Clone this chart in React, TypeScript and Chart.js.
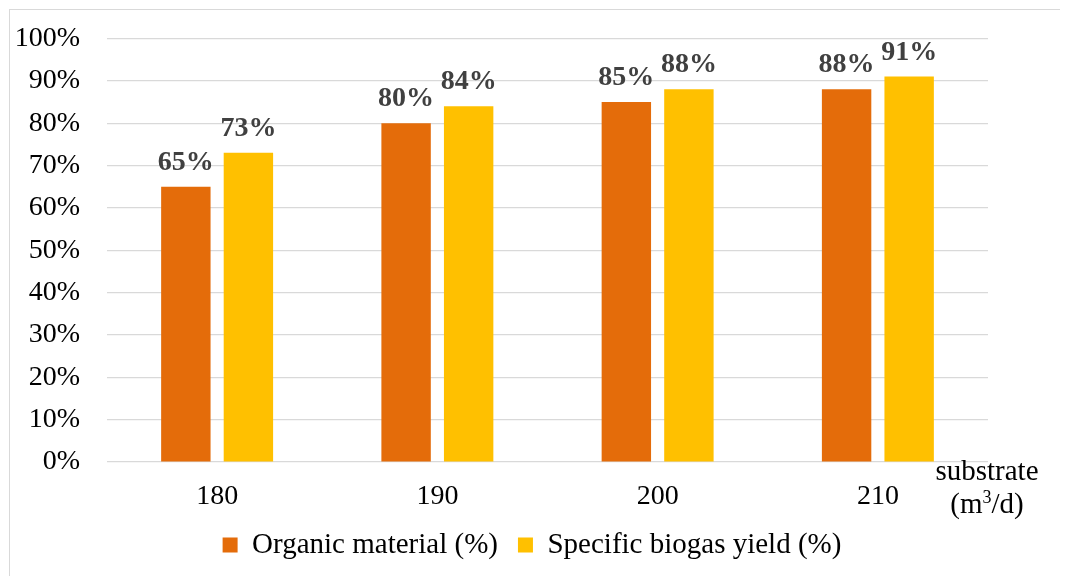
import React, { useEffect, useRef } from "react";
import { Chart, registerables } from "chart.js";

Chart.register(...registerables);

const categories = ["180", "190", "200", "210"];
const organicMaterial = [65, 80, 85, 88];
const biogasYield = [73, 84, 88, 91];
const seriesNames = ["Organic material (%)", "Specific biogas yield (%)"];
const seriesColors = ["#E46C0A", "#FFC000"];
const yTicks = { min: 0, max: 100, step: 10 };
const xTitleLines = ["substrate", "(m", "3", "/d)"];

const FONT = "'Times New Roman', 'Liberation Serif', serif";

const dataLabelPlugin = {
  id: "dataLabels",
  afterDatasetsDraw(chart: any) {
    const ctx = chart.ctx;
    ctx.save();
    ctx.font = `bold 28px ${FONT}`;
    ctx.fillStyle = "#404040";
    ctx.textAlign = "center";
    ctx.textBaseline = "alphabetic";
    chart.data.datasets.forEach((ds: any, i: number) => {
      const meta = chart.getDatasetMeta(i);
      meta.data.forEach((el: any, j: number) => {
        ctx.fillText(`${ds.data[j]}%`, el.x, el.y - 17);
      });
    });
    ctx.restore();
  },
};

const legendShiftPlugin = {
  id: "legendShift",
  afterLayout(chart: any) {
    const lg = chart.legend;
    if (lg) {
      lg.left += 33;
      lg.right += 33;
    }
  },
};

const xTitlePlugin = {
  id: "xTitle",
  afterDraw(chart: any) {
    const ctx = chart.ctx;
    const { right, bottom } = chart.chartArea;
    const cx = right - 1;
    ctx.save();
    ctx.fillStyle = "#000";
    ctx.textBaseline = "alphabetic";
    ctx.textAlign = "center";
    ctx.font = `29px ${FONT}`;
    ctx.fillText(xTitleLines[0], cx, bottom + 18);
    const big = `29px ${FONT}`;
    const small = `18px ${FONT}`;
    ctx.font = big;
    const w1 = ctx.measureText(xTitleLines[1]).width;
    const w3 = ctx.measureText(xTitleLines[3]).width;
    ctx.font = small;
    const w2 = ctx.measureText(xTitleLines[2]).width;
    const total = w1 + w2 + w3;
    let x = cx - total / 2;
    const y = bottom + 51;
    ctx.textAlign = "left";
    ctx.font = big;
    ctx.fillText(xTitleLines[1], x, y);
    x += w1;
    ctx.font = small;
    ctx.fillText(xTitleLines[2], x, y - 10);
    x += w2;
    ctx.font = big;
    ctx.fillText(xTitleLines[3], x, y);
    ctx.restore();
  },
};

export default function App() {
  const ref = useRef<HTMLCanvasElement>(null);
  useEffect(() => {
    document.documentElement.style.overflow = "hidden";
    document.body.style.overflow = "hidden";
    Chart.defaults.font.family = FONT;
    const chart = new Chart(ref.current!, {
      type: "bar",
      data: {
        labels: categories,
        datasets: [
          {
            label: seriesNames[0],
            data: organicMaterial,
            backgroundColor: seriesColors[0],
            categoryPercentage: 0.568,
            barPercentage: 0.79,
          },
          {
            label: seriesNames[1],
            data: biogasYield,
            backgroundColor: seriesColors[1],
            categoryPercentage: 0.568,
            barPercentage: 0.79,
          },
        ],
      },
      options: {
        responsive: false,
        animation: false,
        layout: { padding: { left: 0, right: 72, top: 28.5, bottom: 6.5 } },
        plugins: {
          legend: {
            position: "bottom",
            labels: {
              boxWidth: 15,
              boxHeight: 15,
              padding: 20,
              color: "#000",
              font: { size: 29, family: FONT },
            },
          },
          tooltip: { enabled: false },
        },
        scales: {
          x: {
            grid: { display: false, drawTicks: false },
            border: { display: false },
            ticks: { color: "#000", font: { size: 28, family: FONT }, padding: 18 },
            afterFit: (s: any) => {
              s.height = 48.5;
            },
          },
          y: {
            min: yTicks.min,
            max: yTicks.max,
            grid: { color: "#D9D9D9", lineWidth: 1.2, drawTicks: false },
            border: { display: false },
            ticks: {
              stepSize: yTicks.step,
              color: "#000",
              padding: 27,
              font: { size: 28, family: FONT },
              callback: (v: any) => `${v}%`,
            },
            afterFit: (s: any) => {
              s.width = 97;
              s.paddingTop = 0;
              s.paddingBottom = 0;
            },
          },
        },
      },
      plugins: [dataLabelPlugin, legendShiftPlugin, xTitlePlugin],
    });
    return () => chart.destroy();
  }, []);
  return (
    <div
      style={{
        marginTop: 1,
        marginLeft: 1,
        borderTop: "1px solid #D9D9D9",
        borderLeft: "1px solid #D9D9D9",
        width: 1080,
        height: 566,
      }}
    >
      <canvas ref={ref} width={1050} height={566} style={{ display: "block" }} />
    </div>
  );
}
